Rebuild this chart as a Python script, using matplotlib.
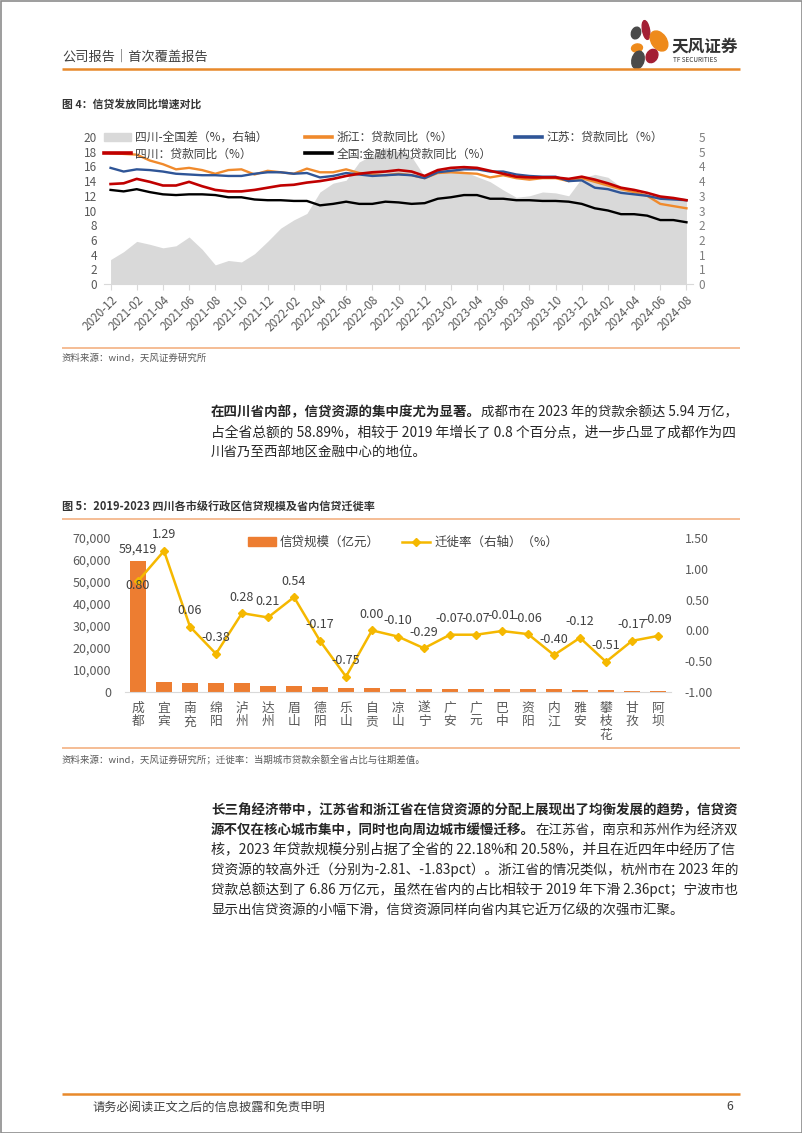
import numpy as np
import pandas as pd
import matplotlib
matplotlib.use("Agg")
import matplotlib.pyplot as plt
from matplotlib.patches import Patch, Rectangle, Ellipse
from matplotlib.lines import Line2D
from matplotlib.ticker import FuncFormatter

plt.rcParams['font.family'] = ['Noto Sans CJK SC', 'DejaVu Sans']
plt.rcParams['axes.unicode_minus'] = False

W, H = 802, 1133

# ---- chart 1 data (monthly, %) ----
months = pd.period_range('2020-12', '2024-08', freq='M').strftime('%Y-%m').tolist()
sc_minus_cn = [0.83, 1.10, 1.45, 1.35, 1.23, 1.30, 1.60, 1.18, 0.65, 0.80,
               0.75, 1.03, 1.45, 1.90, 2.18, 2.40, 3.13, 3.43, 3.53, 4.15,
               4.38, 4.63, 4.50, 4.33, 3.65, 3.88, 3.95, 3.83, 3.65, 3.48,
               3.20, 2.95, 3.00, 3.13, 3.10, 3.00, 3.60, 3.73, 3.63, 3.30,
               3.15, 3.05, 3.00, 2.95, 2.85]
zhejiang = [17.8, 17.7, 17.6, 16.8, 16.3, 15.6, 15.8, 15.5, 15.0, 15.5,
            15.6, 14.9, 15.4, 15.2, 15.0, 15.7, 15.2, 15.2, 15.6, 15.1,
            14.9, 14.8, 15.0, 14.8, 14.4, 15.1, 15.2, 15.1, 15.0, 14.5,
            14.8, 14.4, 14.2, 14.4, 14.4, 14.0, 14.4, 13.9, 13.4, 12.9,
            12.5, 12.0, 10.9, 10.6, 10.3]
jiangsu = [15.8, 15.3, 15.6, 15.5, 15.3, 15.0, 14.9, 14.8, 14.8, 14.7,
           14.7, 15.0, 15.2, 15.2, 15.0, 15.1, 14.5, 14.7, 15.1, 14.9,
           14.7, 14.8, 14.9, 14.8, 14.4, 15.2, 15.4, 15.6, 15.6, 15.3,
           15.3, 14.9, 14.7, 14.6, 14.6, 14.0, 14.1, 13.1, 12.9, 12.4,
           12.2, 12.0, 11.6, 11.5, 11.4]
sichuan = [13.6, 13.7, 14.3, 13.9, 13.4, 13.4, 13.9, 13.3, 12.8, 12.6,
           12.6, 12.8, 13.1, 13.4, 13.5, 13.8, 14.0, 14.3, 14.7, 15.0,
           15.2, 15.3, 15.5, 15.3, 14.7, 15.5, 15.8, 15.9, 15.8, 15.4,
           15.0, 14.6, 14.5, 14.5, 14.5, 14.3, 14.6, 14.2, 13.7, 13.1,
           12.8, 12.4, 11.9, 11.7, 11.4]
national = [12.8, 12.6, 12.9, 12.5, 12.2, 12.1, 12.2, 12.2, 12.1, 11.8,
            11.8, 11.5, 11.4, 11.4, 11.3, 11.3, 10.7, 10.9, 11.2, 10.9,
            10.9, 11.2, 11.1, 10.9, 11.0, 11.6, 11.8, 12.1, 12.1, 11.6,
            11.6, 11.4, 11.4, 11.3, 11.3, 11.2, 10.9, 10.3, 10.0, 9.5,
            9.5, 9.3, 8.7, 8.7, 8.4]
right_labels_1 = ['0', '1', '1', '2', '2', '3', '3', '4', '4', '5', '5']

# ---- chart 2 data ----
cities = ['成都', '宜宾', '南充', '绵阳', '泸州', '达州', '眉山', '德阳', '乐山', '自贡',
          '凉山', '遂宁', '广安', '广元', '巴中', '资阳', '内江', '雅安', '攀枝花', '甘孜', '阿坝']
loans = [59419, 4700, 4000, 3950, 3900, 2900, 2850, 2500, 1950, 1900,
         1500, 1450, 1400, 1400, 1350, 1300, 1300, 900, 850, 450, 400]
migration = [0.80, 1.29, 0.06, -0.38, 0.28, 0.21, 0.54, -0.17, -0.75, 0.00,
             -0.10, -0.29, -0.07, -0.07, -0.01, -0.06, -0.40, -0.12, -0.51, -0.17, -0.09]

# ---- text ----
para1 = [
    [("在四川省内部，信贷资源的集中度尤为显著。", True), ("成都市在 2023 年的贷款余额达 5.94 万亿，", False)],
    [("占全省总额的 58.89%，相较于 2019 年增长了 0.8 个百分点，进一步凸显了成都作为四", False)],
    [("川省乃至西部地区金融中心的地位。", False)],
]
para2 = [
    [("长三角经济带中，江苏省和浙江省在信贷资源的分配上展现出了均衡发展的趋势，信贷资", True)],
    [("源不仅在核心城市集中，同时也向周边城市缓慢迁移。", True), ("在江苏省，南京和苏州作为经济双", False)],
    [("核，2023 年贷款规模分别占据了全省的 22.18%和 20.58%，并且在近四年中经历了信", False)],
    [("贷资源的较高外迁（分别为-2.81、-1.83pct）。浙江省的情况类似，杭州市在 2023 年的", False)],
    [("贷款总额达到了 6.86 万亿元，虽然在省内的占比相较于 2019 年下滑 2.36pct；宁波市也", False)],
    [("显示出信贷资源的小幅下滑，信贷资源同样向省内其它近万亿级的次强市汇聚。", False)],
]

ORANGE = '#ED7D31'
GREY_TXT = '#595959'
BODY = '#262626'
TEXT_RIGHT = 738

fig = plt.figure(figsize=(W / 100, H / 100), dpi=100)
fig.patch.set_facecolor('white')

page = fig.add_axes([0, 0, 1, 1])
page.set_xlim(0, W)
page.set_ylim(H, 0)
page.axis('off')
page.set_zorder(10)


def px_axes(x0, y0, x1, y1):
    a = fig.add_axes([x0 / W, 1 - y1 / H, (x1 - x0) / W, (y1 - y0) / H])
    a.patch.set_visible(False)
    return a


def hline(y, x0, x1, color, lw):
    page.plot([x0, x1], [y, y], color=color, lw=lw, solid_capstyle='butt')


justify = []


def para_line(x, y, parts, full, size=9.7):
    prev = None
    arts = []
    for txt, bold in parts:
        w = 'bold' if bold else 'normal'
        if prev is None:
            prev = page.text(x, y, txt, fontsize=size, fontweight=w, color=BODY, va='center', ha='left')
        else:
            prev = page.annotate(txt, xy=(1, 0.5), xycoords=prev, fontsize=size, fontweight=w,
                                 color=BODY, va='center', ha='left')
        arts.append(prev)
    if full:
        justify.append((x, arts))


# page frame
page.add_patch(Rectangle((0.5, 0.5), W - 1, H - 1, fill=False, ec='#8c8c8c', lw=1.2))

# header
page.text(62, 57, '公司报告｜首次覆盖报告', fontsize=9.5, color='#404040', va='center')
hline(68.5, 62, 740, '#E8892B', 1.8)
# logo
page.add_patch(Ellipse((636, 33), 9, 12, angle=20, color='#4a4a4a'))
page.add_patch(Ellipse((646, 30), 7, 19, angle=-10, color='#A31F34'))
page.add_patch(Ellipse((659, 41), 15, 22, angle=-35, color='#EE8A1B'))
page.add_patch(Ellipse((637, 48), 11, 8, angle=-10, color='#EE8A1B'))
page.add_patch(Ellipse((652, 56), 11, 14, angle=30, color='#A31F34'))
page.add_patch(Ellipse((638, 60), 12, 18, angle=15, color='#4a4a4a'))
page.text(671, 47, '天风证券', fontsize=12, fontweight='bold', color='#333333', va='center')
page.text(673, 60, 'TF SECURITIES', fontsize=4.6, color='#333333', va='center')

# ---------------- figure 4 ----------------
page.text(62, 104, '图 4：信贷发放同比增速对比', fontsize=7.8, fontweight='bold', color='#333333', va='center')

ax1 = px_axes(104, 137, 693, 284)
ax1r = ax1.twinx()
ax1r.patch.set_visible(False)
ax1.set_zorder(ax1r.get_zorder() + 1)

x = np.arange(len(months))
ax1r.fill_between(x, 0, sc_minus_cn, color='#D9D9D9', lw=0)
ax1.plot(x, zhejiang, color='#F08A2C', lw=1.7)
ax1.plot(x, jiangsu, color='#2F5597', lw=1.7)
ax1.plot(x, national, color='#000000', lw=1.7)
ax1.plot(x, sichuan, color='#C00000', lw=1.9)

ax1.set_xlim(-0.5, len(months) - 0.5)
ax1.set_ylim(0, 20)
ax1.set_yticks(range(0, 21, 2))
ax1r.set_ylim(0, 5)
ax1r.set_yticks(np.arange(0, 5.01, 0.5))
ax1r.set_yticklabels(right_labels_1)
ax1.set_xticks(x[::2])
ax1.set_xticklabels(months[::2], rotation=45, ha='right', va='top', rotation_mode='anchor',
                    fontsize=8.4, color=GREY_TXT)
for a in (ax1, ax1r):
    for s in a.spines.values():
        s.set_visible(False)
ax1.spines['bottom'].set_visible(True)
ax1.spines['bottom'].set_color('#D9D9D9')
ax1.tick_params(axis='x', length=4, color='#D9D9D9', pad=3)
ax1.tick_params(axis='y', length=0, labelsize=8.5, labelcolor=GREY_TXT, pad=5)
ax1r.tick_params(axis='y', length=0, labelsize=8.5, labelcolor='#7f7f7f', pad=4)

leg_kw = dict(frameon=False, fontsize=8.5, handlelength=2.3, handletextpad=0.35,
              labelspacing=0.3, borderpad=0, borderaxespad=0, loc='upper left',
              bbox_transform=page.transData, labelcolor='#404040')
lg1 = page.legend([Patch(color='#D9D9D9'), Line2D([], [], color='#C00000', lw=2.6)],
                  ['四川-全国差（%，右轴）', '四川：贷款同比（%）'], bbox_to_anchor=(104, 131), **leg_kw)
page.add_artist(lg1)
lg2 = page.legend([Line2D([], [], color='#F08A2C', lw=2.6), Line2D([], [], color='#000000', lw=2.6)],
                  ['浙江：贷款同比（%）', '全国:金融机构贷款同比（%）'], bbox_to_anchor=(305, 131), **leg_kw)
page.add_artist(lg2)
lg3 = page.legend([Line2D([], [], color='#2F5597', lw=2.6)],
                  ['江苏：贷款同比（%）'], bbox_to_anchor=(515, 131), **leg_kw)
page.add_artist(lg3)

hline(348, 62, 740, '#F4B183', 1.2)
page.text(62, 358, '资料来源：wind，天风证券研究所', fontsize=6.8, color=GREY_TXT, va='center')

for i, parts in enumerate(para1):
    para_line(211, 412 + i * 20.5, parts, i < len(para1) - 1)

# ---------------- figure 5 ----------------
page.text(62, 507, '图 5：2019-2023 四川各市级行政区信贷规模及省内信贷迁徙率', fontsize=8,
          fontweight='bold', color='#333333', va='center')
hline(519, 62, 740, '#F4B183', 1.2)

ax2 = px_axes(125, 538, 671, 692)
ax2r = ax2.twinx()
ax2r.patch.set_visible(False)
xc = np.arange(len(cities))
ax2.bar(xc, loans, width=0.62, color=ORANGE)
ax2r.plot(xc, migration, color='#F5B800', lw=1.8, marker='D', ms=4.5)
ax2.set_xlim(-0.5, len(cities) - 0.5)
ax2.set_ylim(0, 70000)
ax2.set_yticks(range(0, 70001, 10000))
ax2.yaxis.set_major_formatter(FuncFormatter(lambda v, p: f'{v:,.0f}'))
ax2r.set_ylim(-1, 1.5)
ax2r.set_yticks(np.arange(-1, 1.51, 0.5))
ax2r.yaxis.set_major_formatter(FuncFormatter(lambda v, p: f'{v:.2f}'))
ax2.set_xticks(xc)
ax2.set_xticklabels(['\n'.join(c) for c in cities], fontsize=9.2, color=GREY_TXT, linespacing=1.05)
for a in (ax2, ax2r):
    for s in a.spines.values():
        s.set_visible(False)
ax2.spines['bottom'].set_visible(True)
ax2.spines['bottom'].set_color('#D9D9D9')
ax2.tick_params(axis='x', length=0, pad=7)
ax2.tick_params(axis='y', length=0, labelsize=9, labelcolor=GREY_TXT, pad=10)
ax2r.tick_params(axis='y', length=0, labelsize=8.8, labelcolor=GREY_TXT, pad=10)

ax2.annotate(f'{loans[0]:,}', (0, loans[0]), xytext=(0, 9), textcoords='offset points',
             ha='center', va='center', fontsize=9, color='#404040')
for i, v in enumerate(migration):
    dy = -3 if i == 0 else 11.5
    ax2r.annotate(f'{v:.2f}', (i, v), xytext=(0, dy), textcoords='offset points',
                  ha='center', va='center', fontsize=9, color='#404040')

page.legend([Patch(color=ORANGE), Line2D([], [], color='#F5B800', lw=1.8, marker='D', ms=4.5)],
            ['信贷规模（亿元）', '迁徙率（右轴）（%）'], ncol=2, columnspacing=1.8,
            bbox_to_anchor=(248, 536), frameon=False, fontsize=9, handlelength=2.2,
            handletextpad=0.35, borderpad=0, borderaxespad=0, loc='upper left',
            bbox_transform=page.transData, labelcolor='#404040')

hline(748, 62, 740, '#F4B183', 1.2)
page.text(62, 760, '资料来源：wind，天风证券研究所；迁徙率：当期城市贷款余额全省占比与往期差值。',
          fontsize=6.8, color=GREY_TXT, va='center')

for i, parts in enumerate(para2):
    para_line(211, 810 + i * 20, parts, i < len(para2) - 1)

# footer
hline(1094, 62, 740, '#E8892B', 1.8)
page.text(92, 1107, '请务必阅读正文之后的信息披露和免责申明', fontsize=8.8, color='#404040', va='center')
page.text(730, 1107, '6', fontsize=8.8, color='#404040', va='center', ha='center')

# stretch/shrink full lines so they end at the right text margin
fig.canvas.draw()
r = fig.canvas.get_renderer()
for x0, arts in justify:
    right = arts[-1].get_window_extent(r).x1
    left = arts[0].get_window_extent(r).x0
    target = TEXT_RIGHT / W * fig.bbox.width - left
    k = target / (right - left)
    for a in arts:
        a.set_fontsize(a.get_fontsize() * k)

fig.savefig('out.png', dpi=100, facecolor='white')
